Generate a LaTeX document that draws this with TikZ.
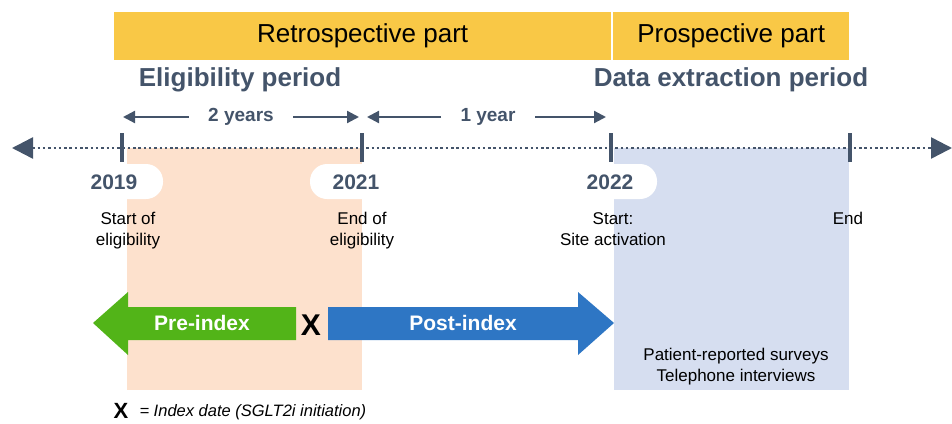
\documentclass[tikz,border=0pt]{standalone}
\usepackage{fontspec}
\setmainfont{Liberation Sans}
\usetikzlibrary{positioning, arrows.meta}
\definecolor{slate}{HTML}{44546A}
\definecolor{bandyellow}{HTML}{F9C846}
\definecolor{retropink}{HTML}{FDE1CD}
\definecolor{prosblue}{HTML}{D6DEF0}
\definecolor{pregreen}{HTML}{52B418}
\definecolor{postblue}{HTML}{2E76C4}
\newcommand{\fs}[2]{\fontsize{#1}{#2}\selectfont}

\begin{document}
\begin{tikzpicture}[x=1pt,y=-1pt,
   part/.style={fill=bandyellow,minimum height=48pt,inner sep=0pt,anchor=north west,font=\fs{26}{30}},
   period/.style={text=slate,font=\bfseries\fs{26}{30}},
   span/.style={text=slate,font=\bfseries\fs{19}{22}},
   dimarrow/.style={slate,line width=2.2pt,-{Triangle[length=12pt,width=12pt]}},
   timeline/.style={slate,line width=2.5pt,dash pattern=on 2.5pt off 2.8pt,{Triangle[length=21pt,width=21pt]}-{Triangle[length=21pt,width=21pt]}},
   tickmark/.style={slate,line width=3.5pt},
   yeartab/.style={fill=white,rounded corners=17pt},
   year/.style={text=slate,font=\bfseries\fs{21}{24}},
   desc/.style={align=center,font=\fs{17}{21}},
   phase/.style={text=white,font=\bfseries\fs{21}{24}}]
   \useasboundingbox (0,0) rectangle (952,423);
   % study periods
   \fill[retropink] (127,148) rectangle (362,390);
   \fill[prosblue] (614,148) rectangle (849,390);
   \node[part,minimum width=497pt] (retro) at (114,12) {Retrospective part};
   \node[part,minimum width=236pt] (pros) at (613,12) {Prospective part};
   \node[period] (elig) at (240,80) {Eligibility period};
   \node[period] (extr) at (731,80) {Data extraction period};
   % time axis
   \coordinate (tlL) at (12,148);
   \coordinate (tlR) at (952,148);
   \draw[timeline] (tlL) -- (tlR);
   \foreach \x/\n in {122/a,362/b,611/c,850/d}{
      \coordinate (tk\n) at (\x,117);
      \draw[tickmark] (\x,133) -- (\x,162);
   }
   \node[span] (two) at (241,117) {2 years};
   \node[span] (one) at (488,117) {1 year};
   \draw[dimarrow] (two.west) ++(-16,0) -- ([xshift=1pt]tka);
   \draw[dimarrow] (two.east) ++(16,0) -- ([xshift=-3pt]tkb);
   \draw[dimarrow] (one.west) ++(-16,0) -- ([xshift=5pt]tkb);
   \draw[dimarrow] (one.east) ++(16,0) -- ([xshift=-5pt]tkc);
   % year tabs
   \fill[yeartab] (70,164) rectangle (163,199);
   \fill[yeartab] (310,164) rectangle (410,199);
   \fill[yeartab] (560,164) rectangle (657,199);
   \node[year] (y19) at (114,182) {2019};
   \node[year] (y21) at (356,182) {2021};
   \node[year] (y22) at (610,182) {2022};
   \node[desc,anchor=north] (d19) at (128,209) {Start of\\eligibility};
   \node[desc,anchor=north] (d21) at (362,209) {End of\\eligibility};
   \node[desc,anchor=north] (d22) at (613,209) {Start:\\Site activation};
   \node[desc,anchor=north] (dend) at (848,209) {End};
   % index arrows
   \fill[pregreen] (93,323) -- (128,292) -- (128,307) -- (296,307) -- (296,340) -- (128,340) -- (128,355) -- cycle;
   \fill[postblue] (328,307) -- (578,307) -- (578,292) -- (614,323) -- (578,355) -- (578,340) -- (328,340) -- cycle;
   \node[phase] (pre) at (202,323) {Pre-index};
   \node[phase] (post) at (463,323) {Post-index};
   \node[font=\bfseries\fs{30}{34}] (idx) at (311,325) {X};
   \node[desc] (surv) at (736,367) {Patient-reported surveys\\Telephone interviews};
   % legend
   \node[font=\bfseries\fs{22}{24}] (lx) at (121,411) {X};
   \node[font=\itshape\fs{16.5}{20},anchor=west] (ltxt) at (136,412) {= Index date (SGLT2i initiation)};
\end{tikzpicture}
\end{document}
